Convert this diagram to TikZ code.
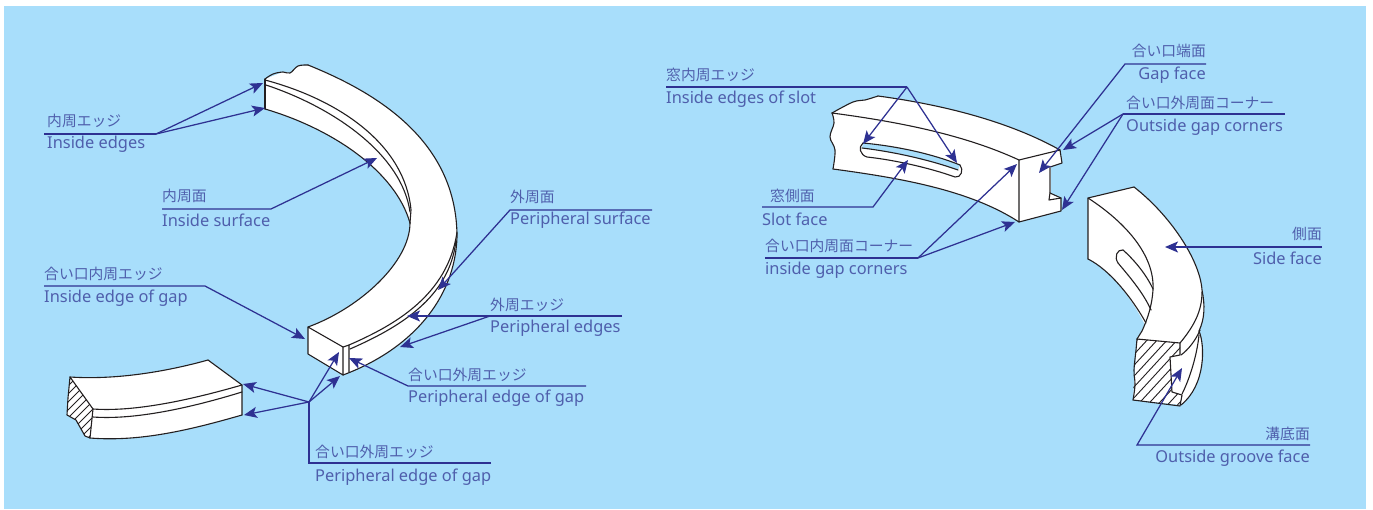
\documentclass[tikz,border=0pt]{standalone}
\usepackage{fontspec}
\setmainfont{Noto Sans}[Scale=1]
\newfontfamily\jpfont{Noto Sans CJK JP}
\usetikzlibrary{arrows.meta}
\definecolor{bgblue}{HTML}{A8DEFB}
\definecolor{leadblue}{HTML}{2E3192}
\definecolor{textblue}{HTML}{4F5FAC}
\definecolor{inkline}{HTML}{231F20}
\tikzset{
  x=1pt,y=-1pt,
  obj/.style={draw=inkline,line width=1.1pt,line join=round,line cap=round},
  objfill/.style={fill=white},
  hatchline/.style={draw=inkline,line width=.9pt},
  lead/.style={draw=leadblue,line width=1.25pt,line join=miter},
  leadarrow/.style={lead,-{Stealth[length=13pt,width=11pt,inset=3pt]}},
  en/.style={inner sep=0pt,text=textblue,font=\fontsize{16.4pt}{18pt}\selectfont,anchor=west},
  jp/.style={inner sep=0pt,text=textblue,font=\fontsize{14.8pt}{18pt}\selectfont\jpfont,anchor=west},
  enr/.style={en,anchor=east},
  jpr/.style={jp,anchor=east},
  sm/.style={smooth,tension=.6}
}
\begin{document}
\begin{tikzpicture}
\useasboundingbox (0,0) rectangle (1373,509);
\fill[bgblue] (4,6) rectangle (1366,509);

%% ---------- big ring ----------
\fill[objfill] (265,79) -- (283,72) -- (290,73) -- (298,66) -- (308,65)
  .. controls (375,92) and (457,140) .. (457,237)
  .. controls (455,300) and (410,350) .. (343,375)
  -- (308,354) -- (308,327)
  .. controls (360,308) and (410,262) .. (410,223)
  .. controls (395,170) and (330,128) .. (265,109) -- cycle;
\draw[obj] plot[sm] coordinates {(265,79)(273,74)(283,72)(290,73)(298,66)(308,65)};
\draw[obj] (308,65) .. controls (375,92) and (457,140) .. (457,237)
  .. controls (455,300) and (410,350) .. (343,375);
\draw[obj] (343,375) -- (308,354) -- (308,327) -- (343,347) -- (343,375);
\draw[obj] (343,347) -- (349,345) -- (349,372);
\draw[obj] (308,327) .. controls (360,308) and (410,262) .. (410,223);
\draw[obj] (410,223) .. controls (395,170) and (330,128) .. (265,109);
\draw[obj] (265,79) -- (265,109);
\draw[obj] (265,80) .. controls (340,100) and (405,145) .. (411,210) -- (410,223);
\draw[obj] (266,85) .. controls (335,108) and (402,155) .. (410,212);
\draw[obj] (349,345) .. controls (395,325) and (448,295) .. (457,232);
\draw[obj] (350,349) .. controls (398,328) and (450,298) .. (456,240);

%% ---------- small cut piece ----------
\fill[objfill] (70,377) .. controls (115,380) and (165,372) .. (208,360)
  -- (242,385) -- (242,415)
  .. controls (190,430) and (140,442) .. (90,438)
  -- (85,436) -- (76,420) -- (67,415) -- (68,398) -- cycle;
\begin{scope}
\clip (70,377) -- (93,409) -- (90,438) -- (85,436) -- (76,420) -- (67,415) -- (68,398) -- cycle;
\foreach \h in {430,438,...,550} {\draw[hatchline] (\h,0) -- (\h-500,500);}
\end{scope}
\draw[obj] (70,377) .. controls (115,380) and (165,372) .. (208,360);
\draw[obj] (208,360) -- (242,385) -- (242,415);
\draw[obj] (242,415) .. controls (190,430) and (140,442) .. (90,438);
\draw[obj] (90,438) -- (85,436) -- (76,420) -- (67,415) -- (68,398) -- (70,377) -- (93,409) -- (90,438);
\draw[obj] (93,409) .. controls (135,412) and (190,400) .. (242,385);
\draw[obj] (93,417) .. controls (135,420) and (190,408) .. (242,392);

%% ---------- slotted segment ----------
\fill[objfill] (832,113) -- (853,102) -- (865,100) -- (878,96)
  .. controls (945,105) and (1010,122) .. (1060,150)
  -- (1062,163) -- (1050,167) -- (1050,193) -- (1061,198) -- (1061,211) -- (1019,222)
  .. controls (970,190) and (900,178) .. (833,169)
  -- (835,150) -- (830,137) -- (834,123) -- cycle;
\draw[obj] plot[sm] coordinates {(832,113)(853,102)(865,100)(878,96)};
\draw[obj] (878,96) .. controls (945,105) and (1010,122) .. (1060,150);
\draw[obj] (1060,150) -- (1062,163) -- (1050,167);
\draw[draw=inkline!60,line width=1.2pt] (1050,167) -- (1050,193);
\draw[obj] (1050,193) -- (1061,198) -- (1061,211) -- (1019,222) -- (1019,160) -- (1060,150);
\draw[obj] (1050,193) -- (1049,200) -- (1061,198);
\draw[obj] (1019,222) .. controls (970,190) and (900,178) .. (833,169);
\draw[obj] plot[sm] coordinates {(833,169)(835,150)(830,137)(834,123)(832,113)};
\draw[obj] (832,113) .. controls (900,122) and (965,135) .. (1019,160);
% slot: see-through part, then edges
\fill[bgblue] (863,143) .. controls (895,146) and (930,153) .. (960,165)
  -- (958,170) .. controls (930,160) and (895,152) .. (862,148) -- cycle;
\draw[obj] (863,143) .. controls (895,146) and (930,153) .. (960,165);
\draw[obj] (862,148) .. controls (895,152) and (930,160) .. (958,170);
\draw[obj] (863,143) .. controls (858,147) and (860,155) .. (867,157)
  .. controls (895,160) and (930,168) .. (955,177)
  .. controls (961,178) and (964,170) .. (960,165);

%% ---------- side view segment ----------
\fill[objfill] (1088,198) -- (1134,187)
  .. controls (1170,215) and (1200,260) .. (1202,290)
  .. controls (1205,305) and (1205,318) .. (1199,331)
  .. controls (1205,345) and (1206,385) .. (1181,405)
  -- (1133,400) -- (1137,339) -- (1145,325)
  .. controls (1132,298) and (1110,270) .. (1088,259) -- cycle;
\begin{scope}
\clip (1137,339) -- (1180,343) -- (1180,355) -- (1170,357) -- (1172,392) -- (1182,395) -- (1180,406) -- (1133,400) -- (1134,370) -- cycle;
\foreach \h in {1450,1460,...,1620} {\draw[hatchline] (\h,0) -- (\h-460,500);}
\end{scope}
\draw[obj] (1088,259) -- (1088,198) -- (1134,187);
\draw[obj] (1134,187) .. controls (1170,215) and (1200,260) .. (1202,290)
  .. controls (1205,305) and (1205,318) .. (1199,331);
\draw[obj] (1088,259) .. controls (1110,270) and (1132,298) .. (1146,323);
\draw[obj] (1088,198) .. controls (1125,222) and (1155,255) .. (1153,290)
  .. controls (1152,305) and (1148,318) .. (1142,331) -- (1137,339);
\draw[obj] (1123,250) .. controls (1132,258) and (1145,272) .. (1153,289);
\draw[obj] (1118,263) .. controls (1128,275) and (1143,292) .. (1151,310);
\draw[obj] (1123,250) .. controls (1117,249) and (1114,257) .. (1118,263);
\draw[obj] (1202,292) .. controls (1202,310) and (1195,325) .. (1180,343);
\draw[obj] (1137,339) -- (1180,343) -- (1180,355) -- (1170,357) -- (1172,392) -- (1182,395) -- (1180,406) -- (1133,400);
\draw[obj] plot[sm] coordinates {(1133,400)(1135,385)(1134,370)(1136,350)(1137,339)};
\draw[obj] (1181,355) .. controls (1188,350) and (1196,340) .. (1200,330);
\draw[obj] (1182,394) .. controls (1190,378) and (1197,355) .. (1199,335);
\draw[obj] (1199,331) .. controls (1205,345) and (1206,385) .. (1181,405);

%% ---------- labels ----------
\node[jp] (a1) at (47,121) {内周エッジ};
\node[en] (a2) at (47,144) {Inside edges};
\node[jp] (b1) at (162,196) {内周面};
\node[en] (b2) at (162,220) {Inside surface};
\node[jp] (c1) at (510,197) {外周面};
\node[en] (c2) at (510,220) {Peripheral surface};
\node[jp] (d1) at (44,274) {合い口内周エッジ};
\node[en] (d2) at (44,298) {Inside edge of gap};
\node[jp] (e1) at (490,305) {外周エッジ};
\node[en] (e2) at (490,328) {Peripheral edges};
\node[jp] (f1) at (408,375) {合い口外周エッジ};
\node[en] (f2) at (408,398) {Peripheral edge of gap};
\node[jp] (g1) at (315,452) {合い口外周エッジ};
\node[en] (g2) at (315,477) {Peripheral edge of gap};
\node[jp] (h1) at (666,75) {窓内周エッジ};
\node[en] (h2) at (666,99) {Inside edges of slot};
\node[jp] (i1) at (770,196) {窓側面};
\node[en] (i2) at (762,219) {Slot face};
\node[jp] (j1) at (765,246) {合い口内周面コーナー};
\node[en] (j2) at (765,270) {inside gap corners};
\node[jpr] (k1) at (1206,51) {合い口端面};
\node[enr] (k2) at (1206,75) {Gap face};
\node[jp] (l1) at (1126,103) {合い口外周面コーナー};
\node[en] (l2) at (1126,127) {Outside gap corners};
\node[jpr] (m1) at (1322,234) {側面};
\node[enr] (m2) at (1322,258) {Side face};
\node[jpr] (n1) at (1310,434) {溝底面};
\node[enr] (n2) at (1310,458) {Outside groove face};

%% ---------- leader anchors ----------
\coordinate (aS) at (44,134);   \coordinate (aK) at (156,134);
\coordinate (aT1) at (263,83);  \coordinate (aT2) at (265,108);
\coordinate (bS) at (162,209);  \coordinate (bK) at (271,209);  \coordinate (bT) at (377,158);
\coordinate (cS) at (652,210);  \coordinate (cK) at (510,210);  \coordinate (cT) at (438,290);
\coordinate (dS) at (44,286);   \coordinate (dK) at (205,286);  \coordinate (dT) at (305,339);
\coordinate (eS) at (622,316);  \coordinate (eK) at (490,316);
\coordinate (eT1) at (407,316); \coordinate (eT2) at (400,347);
\coordinate (fS) at (586,386);  \coordinate (fK) at (408,386);  \coordinate (fT) at (349,358);
\coordinate (gS) at (491,463);  \coordinate (gC) at (309,463);  \coordinate (gK) at (309,402);
\coordinate (gT1) at (243,384); \coordinate (gT2) at (244,415);
\coordinate (gT3) at (339,352); \coordinate (gT4) at (340,376);
\coordinate (hS) at (666,87);   \coordinate (hK) at (907,87);
\coordinate (hT1) at (863,144); \coordinate (hT2) at (957,163);
\coordinate (iS) at (762,207);  \coordinate (iK) at (873,207);  \coordinate (iT) at (908,160);
\coordinate (jS) at (765,258);  \coordinate (jK) at (918,258);
\coordinate (jT1) at (1017,164);\coordinate (jT2) at (1015,222);
\coordinate (kS) at (1206,64);  \coordinate (kK) at (1125,64);  \coordinate (kT) at (1039,173);
\coordinate (lS) at (1285,114); \coordinate (lK) at (1123,114);
\coordinate (lT1) at (1063,150);\coordinate (lT2) at (1062,210);
\coordinate (mS) at (1322,247); \coordinate (mT) at (1165,247);
\coordinate (nS) at (1310,445); \coordinate (nK) at (1137,445); \coordinate (nT) at (1182,368);

%% ---------- leaders ----------
\draw[lead] (aS) -- (aK);
\draw[leadarrow] (aK) -- (aT1);
\draw[leadarrow] (aK) -- (aT2);
\draw[leadarrow] (bS) -- (bK) -- (bT);
\draw[leadarrow] (cS) -- (cK) -- (cT);
\draw[leadarrow] (dS) -- (dK) -- (dT);
\draw[leadarrow] (eS) -- (eT1);
\draw[leadarrow] (eK) -- (eT2);
\draw[leadarrow] (fS) -- (fK) -- (fT);
\draw[lead] (gS) -- (gC) -- (gK);
\draw[leadarrow] (gK) -- (gT1);
\draw[leadarrow] (gK) -- (gT2);
\draw[leadarrow] (gK) -- (gT3);
\draw[leadarrow] (gK) -- (gT4);
\draw[lead] (hS) -- (hK);
\draw[leadarrow] (hK) -- (hT1);
\draw[leadarrow] (hK) -- (hT2);
\draw[leadarrow] (iS) -- (iK) -- (iT);
\draw[lead] (jS) -- (jK);
\draw[leadarrow] (jK) -- (jT1);
\draw[leadarrow] (jK) -- (jT2);
\draw[leadarrow] (kS) -- (kK) -- (kT);
\draw[lead] (lS) -- (lK);
\draw[leadarrow] (lK) -- (lT1);
\draw[leadarrow] (lK) -- (lT2);
\draw[leadarrow] (mS) -- (mT);
\draw[leadarrow] (nS) -- (nK) -- (nT);
\end{tikzpicture}
\end{document}
